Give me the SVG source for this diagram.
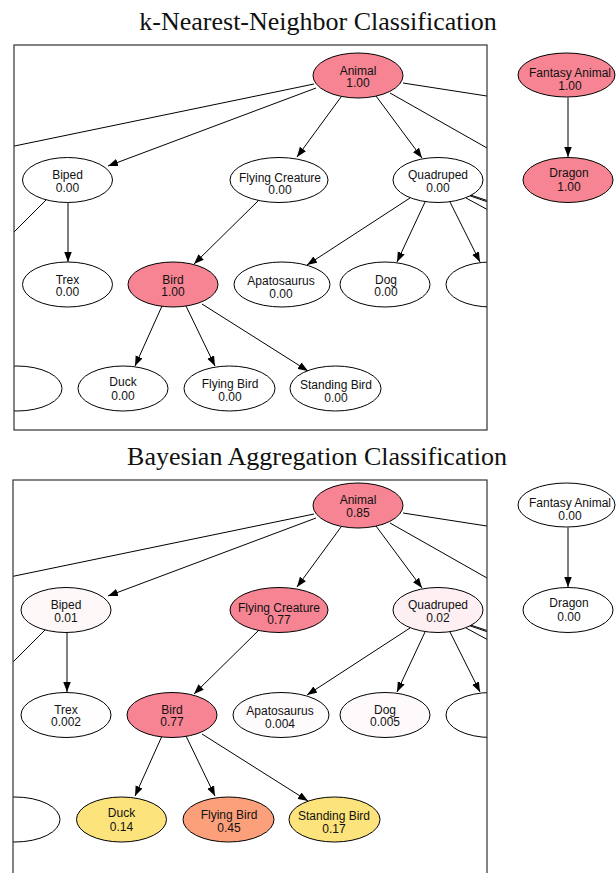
<svg xmlns="http://www.w3.org/2000/svg" width="616" height="873" viewBox="0 0 616 873">
<style>
.title{font-family:"Liberation Serif","Times New Roman",serif;font-size:26px;fill:#111;text-anchor:middle}
.frame{fill:none;stroke:#333;stroke-width:1.2}
.n ellipse{stroke:#000;stroke-width:1}
.n text{font-family:"Liberation Sans",Arial,sans-serif;font-size:12px;fill:#111;text-anchor:middle}
.e line{stroke:#000;stroke-width:1;fill:none}
.a{marker-end:url(#arr)}
.w{fill:#fff}
.pk{fill:#F68493}
</style>
<defs>
<marker id="arr" markerUnits="userSpaceOnUse" markerWidth="10" markerHeight="8" refX="10" refY="3.75" orient="auto">
<path d="M0,0 L10,3.75 L0,7.5 z" fill="#000"/>
</marker>
<clipPath id="c1"><rect x="14" y="45" width="473" height="385"/></clipPath>
<clipPath id="c2"><rect x="13" y="480" width="474" height="400"/></clipPath>
</defs>
<rect width="616" height="873" fill="#fff"/>

<text class="title" x="318" y="30">k-Nearest-Neighbor Classification</text>
<text class="title" x="317" y="465">Bayesian Aggregation Classification</text>

<!-- TOP PANEL -->
<g id="top-panel" clip-path="url(#c1)">
<g id="top-edges" class="e">
<line x1="316" y1="88" x2="108" y2="166" class="a"/>
<line x1="314" y1="84" x2="0" y2="149"/>
<line x1="341" y1="97" x2="297" y2="157" class="a"/>
<line x1="376" y1="96" x2="422" y2="158" class="a"/>
<line x1="403" y1="83" x2="490" y2="96.5"/>
<line x1="390" y1="93" x2="490" y2="149.7"/>
<line x1="469" y1="194.5" x2="490" y2="201.5"/>
<line x1="469" y1="195.5" x2="490" y2="202.7"/>
<line x1="466" y1="198" x2="490" y2="211"/>
<line x1="410" y1="198" x2="307" y2="265" class="a"/>
<line x1="425" y1="202" x2="397" y2="262" class="a"/>
<line x1="450" y1="202" x2="480" y2="262" class="a"/>
<line x1="68" y1="203" x2="68" y2="262" class="a"/>
<line x1="46" y1="200" x2="0" y2="246"/>
<line x1="259" y1="200" x2="194" y2="264" class="a"/>
<line x1="162" y1="306" x2="135" y2="366" class="a"/>
<line x1="186" y1="306" x2="215" y2="366" class="a"/>
<line x1="202" y1="304" x2="308" y2="371" class="a"/>
</g>
<g id="t-animal" class="n"><ellipse class="pk" cx="358" cy="75.5" rx="45" ry="22.5"/><text x="358" y="74.5">Animal</text><text x="358" y="87">1.00</text></g>
<g id="t-biped" class="n"><ellipse class="w" cx="67.5" cy="180" rx="45" ry="22.5"/><text x="67.5" y="179">Biped</text><text x="67.5" y="191.5">0.00</text></g>
<g id="t-flyingcreature" class="n"><ellipse class="w" cx="279" cy="180" rx="49" ry="22.5"/><text x="280" y="181.5">Flying Creature</text><text x="280" y="194">0.00</text></g>
<g id="t-quadruped" class="n"><ellipse class="w" cx="438" cy="180" rx="45" ry="22.5"/><text x="438" y="179">Quadruped</text><text x="438" y="191.5">0.00</text></g>
<g id="t-trex" class="n"><ellipse class="w" cx="67.5" cy="284.5" rx="45" ry="22.5"/><text x="67.5" y="283.5">Trex</text><text x="67.5" y="296">0.00</text></g>
<g id="t-bird" class="n"><ellipse class="pk" cx="173" cy="284.5" rx="45" ry="22.5"/><text x="173" y="283.5">Bird</text><text x="173" y="296">1.00</text></g>
<g id="t-apatosaurus" class="n"><ellipse class="w" cx="282" cy="284.5" rx="48" ry="22.5"/><text x="281" y="285">Apatosaurus</text><text x="281" y="297.5">0.00</text></g>
<g id="t-dog" class="n"><ellipse class="w" cx="385" cy="284.5" rx="45" ry="22.5"/><text x="386" y="283.5">Dog</text><text x="386" y="296">0.00</text></g>
<g id="t-right3" class="n"><ellipse class="w" cx="491" cy="284.5" rx="45" ry="22.5"/></g>
<g id="t-left4" class="n"><ellipse class="w" cx="17" cy="388.5" rx="45" ry="22.5"/></g>
<g id="t-duck" class="n"><ellipse class="w" cx="123" cy="388.5" rx="45" ry="22.5"/><text x="123" y="386">Duck</text><text x="123" y="399.5">0.00</text></g>
<g id="t-flyingbird" class="n"><ellipse class="w" cx="229.5" cy="388.5" rx="45.5" ry="22.5"/><text x="230" y="388">Flying Bird</text><text x="230" y="401">0.00</text></g>
<g id="t-standingbird" class="n"><ellipse class="w" cx="335.5" cy="388.5" rx="45.5" ry="22.5"/><text x="336" y="389">Standing Bird</text><text x="336" y="401.5">0.00</text></g>
</g>
<rect class="frame" x="14" y="45" width="473" height="385"/>
<g id="top-side-edges" class="e"><line x1="568" y1="97.5" x2="568" y2="157" class="a"/></g>
<g id="t-fantasy" class="n"><ellipse class="pk" cx="566.5" cy="75" rx="48.5" ry="22"/><text x="570" y="77">Fantasy Animal</text><text x="570" y="89.5">1.00</text></g>
<g id="t-dragon" class="n"><ellipse class="pk" cx="568" cy="180" rx="45" ry="22.5"/><text x="569" y="177">Dragon</text><text x="569" y="190.5">1.00</text></g>

<!-- BOTTOM PANEL -->
<g id="bottom-panel" clip-path="url(#c2)">
<g id="bottom-edges" class="e" transform="translate(0,430)">
<line x1="316" y1="88" x2="108" y2="166" class="a"/>
<line x1="314" y1="84" x2="0" y2="149"/>
<line x1="341" y1="97" x2="297" y2="157" class="a"/>
<line x1="376" y1="96" x2="422" y2="158" class="a"/>
<line x1="403" y1="83" x2="490" y2="96.5"/>
<line x1="390" y1="93" x2="490" y2="149.7"/>
<line x1="469" y1="194.5" x2="490" y2="201.5"/>
<line x1="469" y1="195.5" x2="490" y2="202.7"/>
<line x1="466" y1="198" x2="490" y2="211"/>
<line x1="410" y1="198" x2="307" y2="265" class="a"/>
<line x1="425" y1="202" x2="397" y2="262" class="a"/>
<line x1="450" y1="202" x2="480" y2="262" class="a"/>
<line x1="67" y1="203" x2="67" y2="262" class="a"/>
<line x1="45" y1="200" x2="0" y2="245"/>
<line x1="259" y1="200" x2="194" y2="264" class="a"/>
<line x1="162" y1="306" x2="135" y2="366" class="a"/>
<line x1="186" y1="306" x2="215" y2="366" class="a"/>
<line x1="202" y1="304" x2="308" y2="371" class="a"/>
</g>
<g id="b-animal" class="n"><ellipse class="pk" cx="358" cy="505.5" rx="45" ry="22.5"/><text x="358" y="504">Animal</text><text x="358" y="516.5">0.85</text></g>
<g id="b-biped" class="n"><ellipse fill="#FDF7F8" cx="66" cy="610" rx="45" ry="22.5"/><text x="66" y="609">Biped</text><text x="66" y="621.5">0.01</text></g>
<g id="b-flyingcreature" class="n"><ellipse class="pk" cx="279" cy="610" rx="49" ry="22.5"/><text x="279" y="611.5">Flying Creature</text><text x="279" y="624">0.77</text></g>
<g id="b-quadruped" class="n"><ellipse fill="#FDEFF2" cx="438" cy="610" rx="45" ry="22.5"/><text x="438" y="609">Quadruped</text><text x="438" y="621.5">0.02</text></g>
<g id="b-trex" class="n"><ellipse fill="#FFFEFE" cx="66" cy="715" rx="45" ry="22.5"/><text x="66" y="713.5">Trex</text><text x="66" y="726">0.002</text></g>
<g id="b-bird" class="n"><ellipse class="pk" cx="172" cy="715" rx="45" ry="22.5"/><text x="172" y="713.5">Bird</text><text x="172" y="726">0.77</text></g>
<g id="b-apatosaurus" class="n"><ellipse fill="#FEFBFC" cx="281" cy="715" rx="48" ry="22.5"/><text x="280" y="715">Apatosaurus</text><text x="280" y="727.5">0.004</text></g>
<g id="b-dog" class="n"><ellipse fill="#FEFAFB" cx="385" cy="715" rx="45" ry="22.5"/><text x="385" y="713.5">Dog</text><text x="385" y="726">0.005</text></g>
<g id="b-right3" class="n"><ellipse class="w" cx="491" cy="715" rx="45" ry="22.5"/></g>
<g id="b-left4" class="n"><ellipse class="w" cx="15" cy="819.5" rx="45" ry="22.5"/></g>
<g id="b-duck" class="n"><ellipse fill="#FDE37B" cx="121.5" cy="819.5" rx="45" ry="22.5"/><text x="121.5" y="817">Duck</text><text x="121.5" y="830.5">0.14</text></g>
<g id="b-flyingbird" class="n"><ellipse fill="#FCA07C" cx="228.5" cy="819.5" rx="45.5" ry="22.5"/><text x="229" y="819">Flying Bird</text><text x="229" y="832">0.45</text></g>
<g id="b-standingbird" class="n"><ellipse fill="#FDE37B" cx="334.5" cy="819.5" rx="45.5" ry="22.5"/><text x="334" y="820">Standing Bird</text><text x="334" y="832.5">0.17</text></g>
</g>
<rect class="frame" x="13" y="480" width="474" height="400"/>
<g id="bottom-side-edges" class="e"><line x1="568" y1="527.5" x2="568" y2="587" class="a"/></g>
<g id="b-fantasy" class="n"><ellipse class="w" cx="566.5" cy="505" rx="48.5" ry="22"/><text x="570" y="507">Fantasy Animal</text><text x="570" y="519.5">0.00</text></g>
<g id="b-dragon" class="n"><ellipse class="w" cx="568" cy="610" rx="45" ry="22.5"/><text x="569" y="607">Dragon</text><text x="569" y="620.5">0.00</text></g>
</svg>
